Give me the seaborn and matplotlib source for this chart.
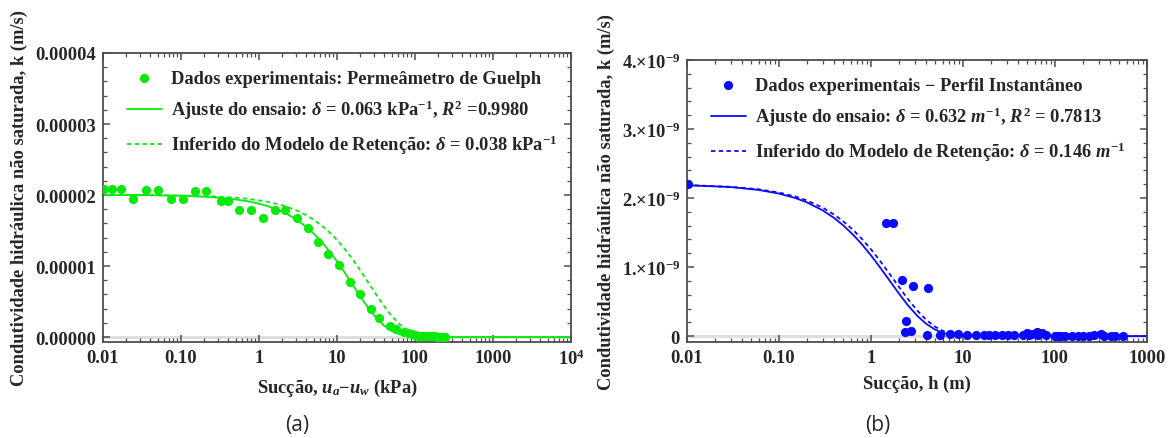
import numpy as np
import pandas as pd
import matplotlib
matplotlib.use("Agg")
import matplotlib.pyplot as plt
import seaborn as sns
from matplotlib.ticker import LogLocator, NullFormatter, MultipleLocator

# ---------------- Panel (a): Guelph permeameter ----------------
A_SCALE = 1e-5
a_suction = [0.0103, 0.0132, 0.0169, 0.0243, 0.0359, 0.0512, 0.074, 0.105, 0.149, 0.208,
             0.321, 0.405, 0.546, 0.788, 1.12, 1.62, 2.14, 3.06, 4.27, 5.63, 7.69, 10.7,
             14.5, 19.8, 27.3, 34.1, 47.6, 56.3, 72, 82, 92, 100, 108, 117, 125, 135, 145,
             155, 165, 178, 190, 205, 220, 235, 245]
a_k = [2.08, 2.08, 2.08, 1.94, 2.07, 2.07, 1.94, 1.94, 2.05, 2.05,
       1.92, 1.92, 1.79, 1.79, 1.68, 1.79, 1.79, 1.67, 1.54, 1.34, 1.17, 1.02,
       0.78, 0.60, 0.40, 0.27, 0.155, 0.108, 0.07, 0.05, 0.04, 0.03, 0.02, 0.02, 0.015, 0.01, 0.01,
       0.01, 0.01, 0.01, 0.005, 0.005, 0.005, 0.005, 0.005]
a_curve_x = [0.01, 0.03, 0.1, 0.2, 0.3, 0.5, 0.7, 1, 1.3, 1.6, 2, 2.5, 3.2, 4, 5, 6.3, 8, 10,
             12.6, 16, 20, 25, 32, 40, 50, 63, 80, 100, 126, 160, 200, 300, 1000, 10000]
a_fit_k = [2.00, 2.00, 1.99, 1.975, 1.963, 1.938, 1.914, 1.878, 1.843, 1.808, 1.763, 1.709,
           1.635, 1.555, 1.460, 1.345, 1.208, 1.065, 0.904, 0.730, 0.567, 0.414, 0.266, 0.161,
           0.086, 0.038, 0.013, 0.0037, 0.0007, 0.0001, 0.0, 0.0, 0.0, 0.0]
a_inf_k = [2.00, 2.00, 1.992, 1.985, 1.977, 1.962, 1.948, 1.925, 1.904, 1.882, 1.854, 1.819,
           1.771, 1.718, 1.654, 1.574, 1.476, 1.368, 1.239, 1.089, 0.935, 0.773, 0.593, 0.437,
           0.299, 0.183, 0.096, 0.045, 0.017, 0.0046, 0.001, 0.0, 0.0, 0.0]
a_xticks = [0.01, 0.1, 1, 10, 100, 1000, 10000]
a_xticklabels = ["0.01", "0.10", "1", "10", "100", "1000", "10$^{4}$"]
a_yticks = [0, 1e-5, 2e-5, 3e-5, 4e-5]
a_yticklabels = ["0.00000", "0.00001", "0.00002", "0.00003", "0.00004"]
a_labels = ["Dados experimentais: Permeâmetro de Guelph",
            r"Ajuste do ensaio: $\delta$ = 0.063 kPa$^{-1}$, $R^{\mathrm{2}}$ =0.9980",
            r"Inferido do Modelo de Retenção: $\delta$ = 0.038 kPa$^{-1}$"]

# ---------------- Panel (b): instantaneous profile ----------------
B_SCALE = 1e-9
b_suction = [0.0103, 1.44, 1.73, 2.16, 2.42, 2.33, 2.70, 2.88, 4.18, 4.10, 5.57, 7.16, 8.87,
             11.1, 13.7, 17.0, 19.3, 22.4, 26.3, 30.7, 35.7, 45, 49.4, 52, 56.8, 63.4, 66,
             71.6, 80, 101, 109, 117, 127, 153, 176, 202, 233, 267, 316, 337, 406, 446, 547]
b_k = [2.20, 1.64, 1.64, 0.81, 0.22, 0.06, 0.08, 0.73, 0.69, 0.015, 0.015, 0.03, 0.03,
       0.015, 0.015, 0.015, 0.015, 0.015, 0.015, 0.02, 0.015, 0.015, 0.05, 0.02, 0.03, 0.06, 0.02,
       0.05, 0.02, 0.005, 0.005, 0.005, 0.005, 0.005, 0.005, 0.005, 0.005, 0.01, 0.03, 0.005,
       0.005, 0.005, 0.005]
b_curve_x = [0.01, 0.03, 0.06, 0.1, 0.15, 0.2, 0.3, 0.4, 0.5, 0.65, 0.8, 1.0, 1.25, 1.6, 2.0,
             2.5, 3.2, 4.0, 5.0, 6.3, 8, 10, 13, 20, 50, 1000]
b_fit_k = [2.186, 2.159, 2.118, 2.065, 2.001, 1.939, 1.820, 1.709, 1.604, 1.459, 1.327, 1.169,
           0.998, 0.801, 0.622, 0.452, 0.291, 0.176, 0.093, 0.041, 0.014, 0.004, 0.0006, 0.0,
           0.0, 0.0]
b_inf_k = [2.188, 2.163, 2.127, 2.080, 2.023, 1.967, 1.860, 1.758, 1.663, 1.529, 1.406, 1.257,
           1.093, 0.898, 0.718, 0.543, 0.367, 0.234, 0.134, 0.065, 0.025, 0.008, 0.0015, 0.0,
           0.0, 0.0]
b_xticks = [0.01, 0.1, 1, 10, 100, 1000]
b_xticklabels = ["0.01", "0.10", "1", "10", "100", "1000"]
b_yticks = [0, 1e-9, 2e-9, 3e-9, 4e-9]
b_yticklabels = ["0", "1.×10$^{-9}$", "2.×10$^{-9}$", "3.×10$^{-9}$", "4.×10$^{-9}$"]
b_labels = ["Dados experimentais − Perfil Instantâneo",
            r"Ajuste do ensaio: $\delta$ = 0.632 $m^{-1}$, $R^{\mathrm{2}}$ = 0.7813",
            r"Inferido do Modelo de Retenção: $\delta$ = 0.146 $m^{-1}$"]

ylabel_text = "Condutividade hidráulica não saturada, k (m/s)"

# ---------------- style ----------------
sns.set_theme(style="ticks")
plt.rcParams["font.family"] = ["Liberation Serif", "DejaVu Serif"]
plt.rcParams["font.weight"] = "bold"
plt.rcParams["mathtext.fontset"] = "custom"
plt.rcParams["mathtext.rm"] = "Liberation Serif:bold"
plt.rcParams["mathtext.bf"] = "Liberation Serif:bold"
plt.rcParams["mathtext.it"] = "Liberation Serif:italic:bold"

FS = 13.3
GREEN = "#0aea0a"
BLUE = "#0a0aff"
FRAME = "#4d4d4d"

fig = plt.figure(figsize=(11.71, 4.39), dpi=100)
W, H = 1171, 439
axA = fig.add_axes([103 / W, (H - 343) / H, 468 / W, 289 / H])
axB = fig.add_axes([687 / W, (H - 343) / H, 460 / W, 282 / H])


def draw(ax, xs, ks, scale, cx, fit, inf, color, labels):
    df_pts = pd.DataFrame({"x": xs, "k": np.array(ks) * scale})
    df_c = pd.DataFrame({"x": cx, "fit": np.array(fit) * scale, "inf": np.array(inf) * scale})
    ax.axhline(0, color="#dedede", lw=2.2, zorder=0.5)
    sns.scatterplot(data=df_pts, x="x", y="k", ax=ax, color=color, s=44, linewidth=0,
                    zorder=3, label=labels[0], clip_on=True)
    sns.lineplot(data=df_c, x="x", y="fit", ax=ax, color=color, lw=1.3, sort=False,
                 estimator=None, label=labels[1], zorder=2)
    sns.lineplot(data=df_c, x="x", y="inf", ax=ax, color=color, lw=1.3, sort=False,
                 estimator=None, label=labels[2], linestyle=(0, (2.4, 1.9)), zorder=2)


draw(axA, a_suction, a_k, A_SCALE, a_curve_x, a_fit_k, a_inf_k, GREEN, a_labels)
draw(axB, b_suction, b_k, B_SCALE, b_curve_x, b_fit_k, b_inf_k, BLUE, b_labels)

for ax, xt, xtl, yt, ytl, xlim, ylim, ystep, xlabel in [
    (axA, a_xticks, a_xticklabels, a_yticks, a_yticklabels, (0.01, 1e4), (-0.07e-5, 4e-5), 0.2e-5,
     r"Sucção, $u_a$−$u_w$ (kPa)"),
    (axB, b_xticks, b_xticklabels, b_yticks, b_yticklabels, (0.01, 1000), (-0.085e-9, 4e-9), 0.2e-9,
     "Sucção, h (m)"),
]:
    ax.set_xscale("log")
    ax.set_xlim(*xlim)
    ax.set_ylim(*ylim)
    ax.set_xticks(xt, labels=xtl)
    ax.set_yticks(yt, labels=ytl)
    ax.xaxis.set_minor_locator(LogLocator(base=10, subs=np.arange(2, 10)))
    ax.xaxis.set_minor_formatter(NullFormatter())
    ax.yaxis.set_minor_locator(MultipleLocator(ystep))
    ax.tick_params(which="both", direction="in", top=True, right=True, color=FRAME,
                   labelsize=FS, pad=5)
    ax.tick_params(which="major", length=5, width=1.1)
    ax.tick_params(which="minor", length=2.8, width=0.9)
    for lab in ax.get_xticklabels() + ax.get_yticklabels():
        lab.set_fontweight("bold")
    for sp in ax.spines.values():
        sp.set_color(FRAME)
        sp.set_linewidth(1.3)
    ax.set_xlabel(xlabel, fontsize=FS, fontweight="bold", labelpad=6)
    ax.set_ylabel(ylabel_text, fontsize=FS, fontweight="bold", labelpad=5)
    h, l = ax.get_legend_handles_labels()
    ax.legend(h, l, loc="upper left", frameon=False, labelspacing=0.62,
              handlelength=1.9, handletextpad=0.5, borderaxespad=0.5, bbox_to_anchor=(0.015, 1.0),
              prop={"weight": "bold", "size": FS})

fig.text(297 / W, 1 - 426 / H, "(a)", ha="center", va="center", fontsize=15,
         family="Open Sans", fontweight="normal")
fig.text(878 / W, 1 - 426 / H, "(b)", ha="center", va="center", fontsize=15,
         family="Open Sans", fontweight="normal")

fig.savefig("out.png", dpi=100)
